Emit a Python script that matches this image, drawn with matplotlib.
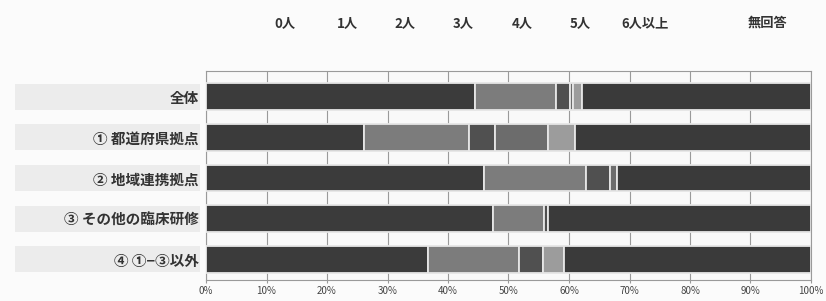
import matplotlib
matplotlib.use("Agg")
import matplotlib.pyplot as plt
from matplotlib.patches import Rectangle
import numpy as np

plt.rcParams['font.family'] = ['Noto Sans CJK JP', 'DejaVu Sans']

categories = ["全体", "① 都道府県拠点", "② 地域連携拠点", "③ その他の臨床研修", "④ ①−③以外"]
series_names = ["0人", "1人", "2人", "3人", "4人", "5人", "6人以上", "無回答"]
v0 = [44.5, 26.1, 45.9, 47.5, 36.7]
v1 = [13.3, 17.3, 16.9, 8.3, 15.1]
v2 = [2.4, 4.3, 4.0, 0.7, 3.9]
v3 = [0.4, 8.8, 1.1, 0.0, 0.0]
v4 = [1.5, 4.5, 0.0, 0.0, 3.5]
v5 = [0.0, 0.0, 0.0, 0.0, 0.0]
v6 = [0.0, 0.0, 0.0, 0.0, 0.0]
v7 = [37.9, 39.0, 32.1, 43.5, 40.8]
xticks = [0, 10, 20, 30, 40, 50, 60, 70, 80, 90, 100]

series = [v0, v1, v2, v3, v4, v5, v6, v7]
colors = ["#3b3b3b", "#7c7c7c", "#505050", "#6c6c6c", "#9c9c9c", "#8a8a8a", "#666666", "#3a3a3a"]

W, H = 826, 301
fig = plt.figure(figsize=(W / 100, H / 100), dpi=100)
fig.patch.set_facecolor("#fbfbfb")

left, right, top, bottom = 206, 811, 71, 280
rowh = (bottom - top) / 5.14

# faint label background bands
for i in range(len(categories)):
    yc = top + (i + 0.63) * rowh
    fig.patches.append(Rectangle((15 / W, 1 - (yc + 13) / H), (200 - 15) / W, 26 / H,
                                 transform=fig.transFigure, facecolor="#ececec",
                                 edgecolor="none", zorder=-5))

ax = fig.add_axes([left / W, 1 - bottom / H, (right - left) / W, (bottom - top) / H])
ax.set_zorder(2)
ax.set_facecolor("#f9f9f9")

y = np.arange(len(categories))
cum = np.zeros(len(categories))
for name, vals, c in zip(series_names, series, colors):
    vals = np.array(vals)
    ax.barh(y, vals, left=cum, height=0.66, color=c, edgecolor="#e6e6e6",
            linewidth=1.3, label=name, zorder=3)
    cum += vals

ax.set_xlim(0, 100)
ax.set_ylim(4.51, -0.63)
ax.set_xticks(xticks)
ax.set_xticklabels([f"{t}%" for t in xticks], fontsize=7, color="#444444")
ax.tick_params(axis="x", length=2, color="#999999", pad=2)
ax.set_yticks(y)
ax.set_yticklabels(categories, fontsize=10.5, fontweight="bold", color="#333333")
ax.tick_params(axis="y", length=0, pad=5)
ax.grid(axis="x", color="#9a9a9a", linewidth=0.8, zorder=0)
for s in ax.spines.values():
    s.set_color("#9a9a9a")
    s.set_linewidth(0.8)

# legend labels (swatches faded in the scan)
legend_x = [285, 347, 405, 463, 522, 580, 645, 768]
for name, lx in zip(series_names, legend_x):
    fig.text(lx / W, 1 - 23 / H, name, fontsize=9.5, fontweight="bold",
             color="#333333", ha="center", va="center")

fig.savefig("out.png", dpi=100, facecolor=fig.get_facecolor())
